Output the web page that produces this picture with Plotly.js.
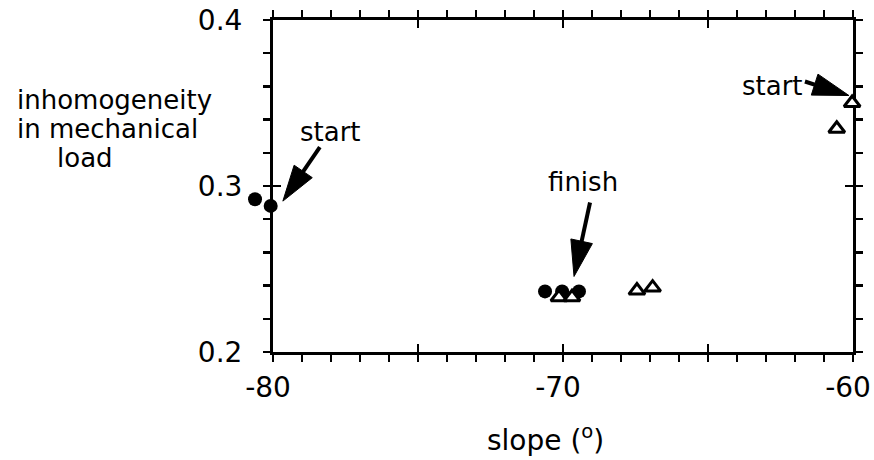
<!DOCTYPE html>
<html><head><meta charset="utf-8">
<script src="https://cdn.plot.ly/plotly-3.0.1.min.js"></script>
<style>html,body{margin:0;padding:0;background:#fff}</style>
</head><body><div id="chart" style="width:874px;height:460px"></div>
<script>
// Data
const circleX = [-80.62, -80.08, -70.62, -70.03, -69.45];
const circleY = [0.292, 0.288, 0.2365, 0.2365, 0.2365];
const triangleX = [-70.14, -69.69, -67.45, -66.91, -60.56, -60.03];
const triangleY = [0.233, 0.233, 0.237, 0.2388, 0.3345, 0.350];

const xLabelVals = [-80, -70, -60];
const xLabelText = ['-80', '-70', '-60'];
const xMajorVals = [-80, -75, -70, -65, -60];
const yLabelVals = [0.2, 0.3, 0.4];
const yLabelText = ['0.2', '0.3', '0.4'];

const yTitleLines = ['inhomogeneity', 'in mechanical', 'load'];
const xTitleText = 'slope (<sup>o</sup>)';

const labelText = ['start', 'finish', 'start'];
const labelX = [-78.03, -69.31, -62.76];
const labelY = [0.3327, 0.3024, 0.360];
const arrowTipX = [-79.66, -69.62, -60.14];
const arrowTipY = [0.2909, 0.2455, 0.3545];
const arrowTailDx = [37, 16, -44];
const arrowTailDy = [54, 74, 14];

const FONT = 'DejaVu Sans, Verdana, sans-serif';

// pixel geometry of the frame
const ML = 244, MR = 21, MT = 20, MB = 108, W = 874, H = 460;
const PW = W - ML - MR, PH = H - MT - MB;
const AXL = 273; // pixel of x = -80

function arrowShapes(tx, ty, dx, dy) {
  const len = Math.hypot(dx, dy), ux = dx / len, uy = dy / len;
  const L = 36, HW = 22, px = -uy, py = ux;
  const bx = ux * L, by = uy * L;
  const head = `M0,0 L${bx + px * HW / 2},${by + py * HW / 2} L${bx - px * HW / 2},${by - py * HW / 2} Z`;
  const shaft = `M${bx * 0.8},${by * 0.8} L${dx},${dy}`;
  const base = {type: 'path', xref: 'x', yref: 'y', xsizemode: 'pixel', ysizemode: 'pixel', xanchor: tx, yanchor: ty};
  return [
    Object.assign({}, base, {path: shaft, line: {color: 'black', width: 4}}),
    Object.assign({}, base, {path: head, fillcolor: 'black', line: {color: 'black', width: 1}})
  ];
}

let shapes = [];
for (let i = 0; i < arrowTipX.length; i++) {
  shapes = shapes.concat(arrowShapes(arrowTipX[i], arrowTipY[i], arrowTailDx[i], arrowTailDy[i]));
}

const annotations = [];
for (let i = 0; i < labelText.length; i++) {
  annotations.push({x: labelX[i], y: labelY[i], xref: 'x', yref: 'y', text: labelText[i],
    showarrow: false, font: {family: FONT, size: 26, color: 'black'}});
}
const yTitleLeft = [15, 15, 55];
const yTitleCenter = [100, 129, 158];
for (let i = 0; i < yTitleLines.length; i++) {
  annotations.push({xref: 'paper', yref: 'paper', x: (yTitleLeft[i] - ML) / PW, y: (H - MB - yTitleCenter[i]) / PH,
    xanchor: 'left', yanchor: 'middle', text: yTitleLines[i], showarrow: false,
    font: {family: FONT, size: 26, color: 'black'}});
}
annotations.push({xref: 'paper', yref: 'paper', x: (545 - ML) / PW, y: (H - MB - 438) / PH,
  xanchor: 'center', yanchor: 'middle', text: xTitleText, showarrow: false,
  font: {family: FONT, size: 28, color: 'black'}});

const traces = [
  {x: [], y: [], xaxis: 'x', yaxis: 'y', type: 'scatter', mode: 'markers', hoverinfo: 'skip'},
  {x: [], y: [], xaxis: 'x2', yaxis: 'y2', type: 'scatter', mode: 'markers', hoverinfo: 'skip'},
  {x: circleX, y: circleY, xaxis: 'x3', yaxis: 'y3', type: 'scatter', mode: 'markers', cliponaxis: false,
   marker: {symbol: 'circle', size: 14, color: 'black', line: {width: 0}}, hoverinfo: 'skip'},
  {x: triangleX, y: triangleY, xaxis: 'x3', yaxis: 'y3', type: 'scatter', mode: 'markers', cliponaxis: false,
   marker: {symbol: 'triangle-up', size: 14, color: 'white', line: {color: 'black', width: 3}}, hoverinfo: 'skip'}
];

const commonAxis = {showgrid: false, zeroline: false, showline: true, linecolor: 'black', linewidth: 3,
  tickcolor: 'black', tickwidth: 2.5, mirror: 'ticks', ticklabeloverflow: 'allow',
  tickfont: {family: FONT, size: 28, color: 'black'}};
const xDomain = [(AXL - ML) / PW, 1];

const layout = {
  width: W, height: H,
  margin: {l: ML, r: MR, t: MT, b: MB, pad: 0},
  paper_bgcolor: 'white', plot_bgcolor: 'rgba(0,0,0,0)',
  showlegend: false,
  font: {family: FONT, size: 26, color: 'black'},
  xaxis: Object.assign({}, commonAxis, {domain: xDomain, range: [-80, -60], anchor: 'y',
    tickmode: 'array', tickvals: xLabelVals, ticktext: xLabelText,
    ticks: 'outside', ticklen: 7, ticklabelstandoff: 1, ticklabelshift: -5,
    minor: {dtick: 1, tick0: -80, ticks: 'outside', ticklen: 7, tickwidth: 2.5, tickcolor: 'black'}}),
  yaxis: Object.assign({}, commonAxis, {domain: [0, 1], range: [0.2, 0.4], anchor: 'x',
    tickmode: 'array', tickvals: yLabelVals, ticktext: yLabelText,
    ticks: 'outside', ticklen: 7, ticklabelstandoff: 15,
    minor: {dtick: 0.02, tick0: 0.2, ticks: 'outside', ticklen: 7, tickwidth: 2.5, tickcolor: 'black'}}),
  xaxis2: Object.assign({}, commonAxis, {range: [-80, -60], overlaying: 'x', anchor: 'y2', side: 'bottom',
    tickmode: 'array', tickvals: xMajorVals, ticks: 'inside', ticklen: 8, showticklabels: false}),
  yaxis2: Object.assign({}, commonAxis, {range: [0.2, 0.4], overlaying: 'y', anchor: 'x2', side: 'left',
    tickmode: 'array', tickvals: yLabelVals, ticks: 'inside', ticklen: 8, showticklabels: false}),
  xaxis3: {domain: [0, 1], range: [-81, -60], anchor: 'y3', visible: false, showgrid: false, zeroline: false},
  yaxis3: {domain: [0, 1], range: [0.2, 0.4], anchor: 'x3', visible: false, showgrid: false, zeroline: false},
  shapes: shapes,
  annotations: annotations
};

Plotly.newPlot('chart', traces, layout, {staticPlot: true, displayModeBar: false});
</script>
</body></html>
